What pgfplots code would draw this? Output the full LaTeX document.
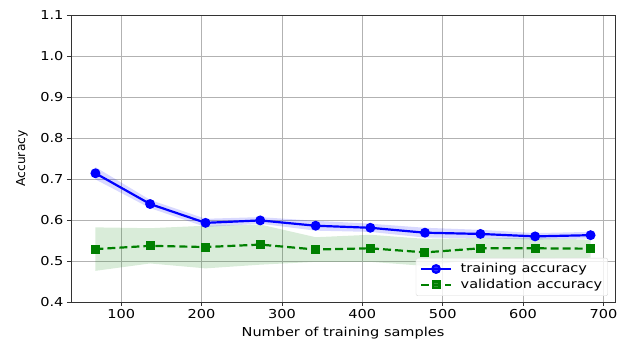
\documentclass[border=0pt]{standalone}
\usepackage{graphicx}
\usepackage{pgfplots}
\pgfplotsset{compat=1.18}
\usepackage{pgfplotstable}
\usepgfplotslibrary{fillbetween}
\usepackage{fontspec}
\setmainfont{DejaVu Sans}[FakeStretch=1.18]
\newfontfamily\plainfont{DejaVu Sans}

\pgfplotstableread{
x   tr    trs    va    vas
68  0.714 0.015  0.529 0.053
136 0.639 0.010  0.537 0.043
205 0.593 0.010  0.534 0.052
273 0.599 0.008  0.540 0.049
342 0.586 0.012  0.528 0.030
410 0.581 0.010  0.531 0.033
478 0.569 0.012  0.521 0.033
547 0.566 0.010  0.531 0.025
615 0.560 0.008  0.531 0.025
684 0.563 0.008  0.530 0.022
}\data

\definecolor{mplgreen}{RGB}{0,128,0}
\definecolor{mplblue}{RGB}{0,0,255}

\begin{document}
\begin{tikzpicture}
\begin{axis}[
  at={(0pt,0pt)}, anchor=south west,
  scale only axis, width=544pt, height=287pt,
  font=\fontsize{12.3}{14}\selectfont,
  /pgf/number format/assume math mode=true,
  xmin=37.6, xmax=714.4, ymin=0.4, ymax=1.1,
  xtick={100,200,...,700},
  ytick={0.4,0.5,...,1.1},
  yticklabel style={/pgf/number format/fixed, /pgf/number format/fixed zerofill, /pgf/number format/precision=1},
  tick align=outside, tick pos=left,
  major tick length=4pt,
  every tick/.style={black!80, line width=0.8pt},
  axis line style={black!80, line width=0.8pt},
  grid=major,
  major grid style={color=black!30, line width=0.8pt},
  xlabel={Number of training samples},
  ylabel={\plainfont Accuracy},
  xlabel style={at={(axis description cs:0.5,0)}, anchor=center, yshift=-31pt},
  ylabel style={at={(axis description cs:-0.09,0.5)}, anchor=center},
  legend style={at={(rel axis cs:0.987,0.021)}, anchor=south east,
    draw=black!15, rounded corners=2pt, fill=white, fill opacity=0.8, text opacity=1,
    font=\fontsize{12.3}{16}\selectfont, row sep=2pt, inner sep=4pt,
    nodes={inner sep=1.5pt}},
  legend cell align=left,
  legend image code/.code={
    \draw[mark repeat=2, mark phase=2, #1] plot coordinates {(0pt,0pt) (15pt,0pt) (30pt,0pt)};
    \path (37pt,0pt);
  },
]
\addplot[draw=none, name path=tu, forget plot] table[x=x, y expr=\thisrow{tr}+\thisrow{trs}] {\data};
\addplot[draw=none, name path=tl, forget plot] table[x=x, y expr=\thisrow{tr}-\thisrow{trs}] {\data};
\addplot[fill=mplblue, fill opacity=0.15, draw=none, forget plot] fill between[of=tu and tl];
\addplot[draw=none, name path=vu, forget plot] table[x=x, y expr=\thisrow{va}+\thisrow{vas}] {\data};
\addplot[draw=none, name path=vl, forget plot] table[x=x, y expr=\thisrow{va}-\thisrow{vas}] {\data};
\addplot[fill=mplgreen, fill opacity=0.15, draw=none, forget plot] fill between[of=vu and vl];

\addplot[color=mplblue, line width=2.2pt, mark=*, mark size=3.8pt, mark options={solid}] table[x=x, y=tr] {\data};
\addlegendentry{training accuracy}
\addplot[color=mplgreen, line width=2.2pt, dash pattern=on 8pt off 4pt, mark=square*, mark size=3.4pt, mark options={solid}] table[x=x, y=va] {\data};
\addlegendentry{validation accuracy}
\end{axis}
\path (-71pt,-42pt) rectangle (556pt,302pt);
\end{tikzpicture}
\end{document}
